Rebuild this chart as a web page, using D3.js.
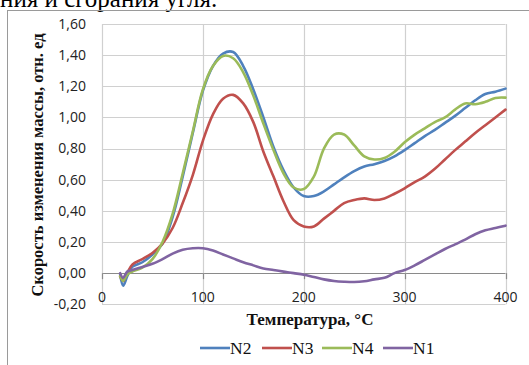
<!DOCTYPE html>
<html>
<head>
<meta charset="utf-8">
<script src="https://cdn.jsdelivr.net/npm/d3@7"></script>
<style>
  body { margin: 0; background: #fff; }
  svg { display: block; }
</style>
</head>
<body>
<svg id="chart" width="529" height="365"></svg>
<script>
// temperature points, °C
const temps = [18, 21, 25, 30, 40, 50, 60, 70, 80, 90, 100, 110, 120, 130, 140, 150, 160, 170, 180, 190,
  200, 210, 220, 230, 240, 250, 260, 270, 280, 290, 300, 310, 320, 330, 340, 350, 360, 370, 380, 390, 400];

const n2 = [-0.01, -0.08, -0.02, 0.04, 0.07, 0.12, 0.19, 0.36, 0.62, 0.90, 1.17, 1.33, 1.41, 1.42, 1.33, 1.18, 1.00, 0.81, 0.66, 0.55,
  0.495, 0.495, 0.525, 0.57, 0.615, 0.655, 0.685, 0.70, 0.72, 0.75, 0.79, 0.835, 0.88, 0.92, 0.965, 1.01, 1.06, 1.11, 1.15, 1.165, 1.185];
const n3 = [-0.02, -0.05, 0.0, 0.055, 0.09, 0.13, 0.19, 0.29, 0.45, 0.63, 0.85, 1.02, 1.12, 1.145, 1.09, 0.97, 0.78, 0.62, 0.46, 0.34,
  0.30, 0.30, 0.35, 0.40, 0.45, 0.47, 0.48, 0.47, 0.48, 0.51, 0.545, 0.585, 0.62, 0.67, 0.73, 0.79, 0.845, 0.90, 0.95, 1.00, 1.05];
const n4 = [-0.02, -0.05, -0.01, 0.01, 0.035, 0.09, 0.20, 0.38, 0.64, 0.91, 1.18, 1.33, 1.395, 1.38, 1.29, 1.14, 0.96, 0.79, 0.64, 0.55,
  0.54, 0.62, 0.80, 0.89, 0.89, 0.82, 0.75, 0.73, 0.74, 0.78, 0.84, 0.89, 0.93, 0.97, 1.00, 1.05, 1.09, 1.085, 1.10, 1.125, 1.127];
const n1 = [0.0, -0.03, 0.01, 0.02, 0.04, 0.06, 0.09, 0.125, 0.15, 0.16, 0.16, 0.145, 0.12, 0.095, 0.07, 0.05, 0.03, 0.02, 0.01, 0.0,
  -0.01, -0.025, -0.04, -0.05, -0.055, -0.057, -0.052, -0.04, -0.03, 0.0, 0.02, 0.05, 0.085, 0.12, 0.155, 0.185, 0.215, 0.25, 0.275, 0.29, 0.305];

const seriesNames = ["N2", "N3", "N4", "N1"];
const seriesValues = [n2, n3, n4, n1];
const yTicks = [-0.2, 0, 0.2, 0.4, 0.6, 0.8, 1.0, 1.2, 1.4, 1.6];
const xTicks = [0, 100, 200, 300, 400];

const colors = ["#4f81bd", "#c0504d", "#9bbb59", "#8064a2"];

const svg = d3.select("#chart");

// document text above the chart (cut off at top)
svg.append("text")
  .attr("x", 0).attr("y", 7)
  .attr("font-family", "Liberation Serif")
  .attr("font-size", 25)
  .attr("fill", "#000")
  .text("ния и сгорания угля.");

// chart frame
svg.append("rect")
  .attr("x", 7.5).attr("y", 10.5)
  .attr("width", 600).attr("height", 400)
  .attr("fill", "none")
  .attr("stroke", "#9a9a9a");

const plot = { left: 102, right: 505.5, top: 24, bottom: 304.3 };

const x = d3.scaleLinear().domain([0, 400]).range([plot.left, plot.right]);
const y = d3.scaleLinear().domain([-0.2, 1.6]).range([plot.bottom, plot.top]);

const fmt = v => d3.format(".2f")(v).replace(".", ",").replace("−", "-");

// horizontal grid
svg.append("g")
  .selectAll("line")
  .data(yTicks)
  .join("line")
  .attr("x1", plot.left).attr("x2", plot.right)
  .attr("y1", d => Math.round(y(d)) + 0.5).attr("y2", d => Math.round(y(d)) + 0.5)
  .attr("stroke", d => d === 0 ? "#8a8a8a" : "#d0d0d0")
  .attr("stroke-width", 1.2);

// vertical grid
svg.append("g")
  .selectAll("line")
  .data(xTicks)
  .join("line")
  .attr("x1", d => Math.round(x(d)) + 0.5).attr("x2", d => Math.round(x(d)) + 0.5)
  .attr("y1", plot.top).attr("y2", plot.bottom)
  .attr("stroke", "#d0d0d0")
  .attr("stroke-width", 1.2);

// x ticks on zero line
svg.append("g")
  .selectAll("line")
  .data(xTicks)
  .join("line")
  .attr("x1", d => Math.round(x(d)) + 0.5).attr("x2", d => Math.round(x(d)) + 0.5)
  .attr("y1", y(0)).attr("y2", y(0) + 6)
  .attr("stroke", "#8a8a8a")
  .attr("stroke-width", 1.2);

// y tick labels
svg.append("g")
  .selectAll("text")
  .data(yTicks)
  .join("text")
  .attr("x", 86)
  .attr("y", d => y(d))
  .attr("dy", "0.35em")
  .attr("text-anchor", "end")
  .attr("font-family", "Open Sans")
  .attr("font-size", 14)
  .attr("fill", "#222")
  .text(fmt);

// x tick labels
svg.append("g")
  .selectAll("text")
  .data(xTicks)
  .join("text")
  .attr("x", d => x(d))
  .attr("y", 301.5)
  .attr("text-anchor", "middle")
  .attr("font-family", "Open Sans")
  .attr("font-size", 14)
  .attr("fill", "#222")
  .text(d => d);

// lines
const line = d3.line()
  .x((d, i) => x(temps[i]))
  .y(d => y(d))
  .curve(d3.curveCatmullRom.alpha(0.5));

svg.append("g")
  .selectAll("path")
  .data(seriesValues)
  .join("path")
  .attr("d", line)
  .attr("fill", "none")
  .attr("stroke", (d, i) => colors[i])
  .attr("stroke-width", 2.6)
  .attr("stroke-linejoin", "round")
  .attr("stroke-linecap", "round");

// axis titles
svg.append("text")
  .attr("transform", "translate(43,165) rotate(-90)")
  .attr("text-anchor", "middle")
  .attr("font-family", "Liberation Serif")
  .attr("font-weight", "bold")
  .attr("font-size", 16.5)
  .attr("fill", "#111")
  .text("Скорость изменения массы, отн. ед");

svg.append("text")
  .attr("x", 310).attr("y", 325)
  .attr("text-anchor", "middle")
  .attr("font-family", "Liberation Serif")
  .attr("font-weight", "bold")
  .attr("font-size", 17)
  .attr("fill", "#111")
  .text("Температура, °С");

// legend
const legendX = [200, 262, 322, 383];
const legend = svg.append("g")
  .selectAll("g")
  .data(seriesNames)
  .join("g")
  .attr("transform", (d, i) => `translate(${legendX[i]},348)`);

legend.append("line")
  .attr("x1", 0).attr("x2", 30)
  .attr("stroke", (d, i) => colors[i])
  .attr("stroke-width", 2.6);

legend.append("text")
  .attr("x", 30).attr("y", 6)
  .attr("font-family", "Liberation Serif")
  .attr("font-size", 17.5)
  .attr("fill", "#111")
  .text(d => d);
</script>
</body>
</html>
